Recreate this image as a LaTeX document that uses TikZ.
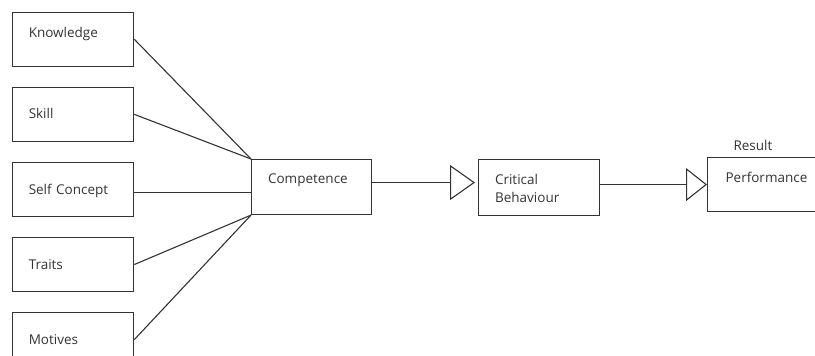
\documentclass[tikz,border=0pt]{standalone}
\usepackage{fontspec}
\setmainfont{Open Sans}
\usetikzlibrary{positioning,arrows.meta}
\usepackage{xcolor}
\definecolor{ink}{HTML}{333333}

\begin{document}
\begin{tikzpicture}[x=1pt,y=-1pt,
    font=\fontsize{13.5}{18}\selectfont,
    node distance=20pt,
    line width=1.1pt,
    box/.style={draw=ink,text=ink,inner xsep=16.5pt,inner ysep=0pt,
      text width=#1,align=left,text height=31pt,text depth=23pt},
    box/.default=88.5pt,
    link/.style={draw=ink},
    flow/.style={draw=ink,-{Triangle[open,length=#1]}},
  ]
  \useasboundingbox (0,0) rectangle (815,356);
  \clip (0,0) rectangle (815,356);

  % inputs
  \node[box,anchor=north west,text height=25pt,text depth=29pt] (know) at (11.7,11.7) {Knowledge};
  \node[box,below=of know] (skill) {Skill};
  \node[box,below=of skill,text height=32pt,text depth=22pt] (self) {Self Concept};
  \node[box,below=of self,text height=32pt,text depth=22pt] (traits) {Traits};
  \node[box,below=of traits,text height=32pt,text depth=22pt] (motives) {Motives};

  % chain
  \node[box=87pt,anchor=north west,text height=24pt,text depth=31pt] (comp) at (251,159) {Competence};
  \node[box=88pt,anchor=north west,text height=25pt,text depth=31pt] (crit) at (478,159) {Critical\\Behaviour};
  \node[box=88pt,anchor=north west,inner xsep=18pt,text height=24.5pt,text depth=29.5pt] (perf) at (707,157) {Performance};
  \node[text=ink,anchor=base west,inner sep=0pt] (result) at ([xshift=26pt,yshift=7pt]perf.north west) {Result};

  \draw[link] (know.east) -- (comp.north west);
  \draw[link] (skill.east) -- (comp.north west);
  \draw[link] ([yshift=-3pt]self.east) -- ([yshift=-3pt]self.east -| comp.west);
  \draw[link] (traits.east) -- (comp.south west);
  \draw[link] (motives.east) -- (comp.south west);

  \draw[flow={25pt,width=35pt},shorten >=3pt] ([yshift=4.5pt]comp.east) -- ([yshift=4.5pt]comp.east -| crit.west);
  \draw[flow={21pt,width=33pt}] ([yshift=3pt]crit.east) -- ([yshift=3pt]crit.east -| perf.west);
\end{tikzpicture}
\end{document}
